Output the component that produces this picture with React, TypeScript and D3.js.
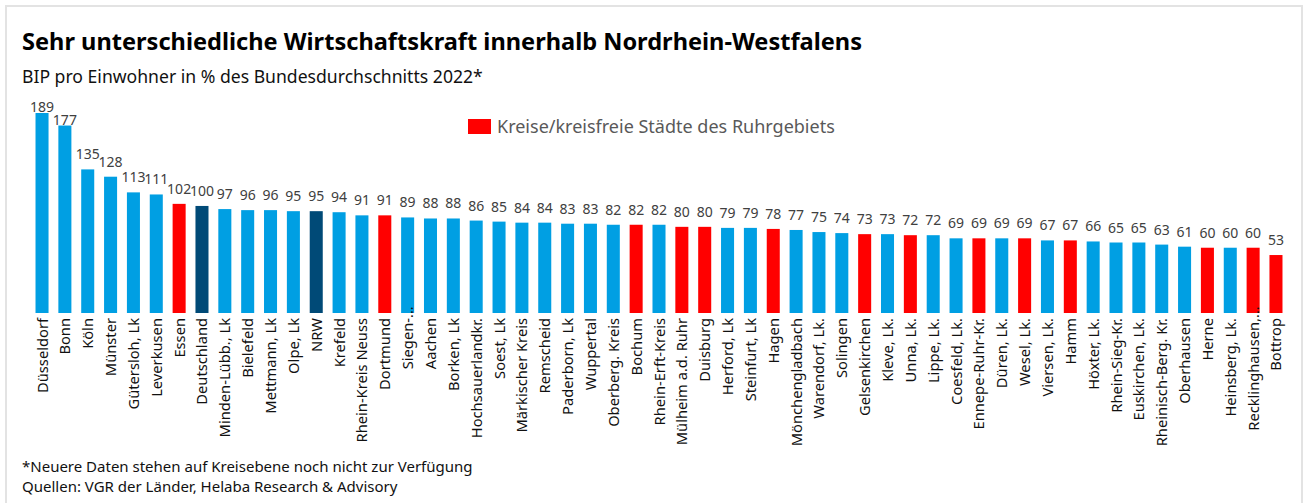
import React from "react";
import { scaleBand, scaleLinear } from "d3";

// BIP pro Einwohner 2022, Deutschland = 100
const regions = [
  "Düsseldorf", "Bonn", "Köln", "Münster", "Gütersloh, Lk", "Leverkusen", "Essen", "Deutschland",
  "Minden-Lübb., Lk", "Bielefeld", "Mettmann, Lk", "Olpe, Lk", "NRW", "Krefeld", "Rhein-Kreis Neuss",
  "Dortmund", "Siegen-...", "Aachen", "Borken, Lk", "Hochsauerlandkr.", "Soest, Lk", "Märkischer Kreis",
  "Remscheid", "Paderborn, Lk", "Wuppertal", "Oberberg. Kreis", "Bochum", "Rhein-Erft-Kreis",
  "Mülheim a.d. Ruhr", "Duisburg", "Herford, Lk", "Steinfurt, Lk", "Hagen", "Mönchengladbach",
  "Warendorf, Lk.", "Solingen", "Gelsenkirchen", "Kleve, Lk.", "Unna, Lk.", "Lippe, Lk.", "Coesfeld, Lk.",
  "Ennepe-Ruhr-Kr.", "Düren, Lk.", "Wesel, Lk.", "Viersen, Lk.", "Hamm", "Höxter, Lk.", "Rhein-Sieg-Kr.",
  "Euskirchen, Lk.", "Rheinisch-Berg. Kr.", "Oberhausen", "Herne", "Heinsberg, Lk.", "Recklinghausen,...",
  "Bottrop",
];

const values = [
  189, 177, 135, 128, 113, 111, 102, 100, 97, 96, 96, 95, 95, 94, 91, 91, 89, 88, 88, 86, 85, 84, 84,
  83, 83, 82, 82, 82, 80, 80, 79, 79, 78, 77, 75, 74, 73, 73, 72, 72, 69, 69, 69, 69, 67, 67, 66, 65,
  65, 63, 61, 60, 60, 60, 53,
];

// Kreise/kreisfreie Städte des Ruhrgebiets
const ruhr = [
  "Essen", "Dortmund", "Bochum", "Mülheim a.d. Ruhr", "Duisburg", "Hagen", "Gelsenkirchen", "Unna, Lk.",
  "Ennepe-Ruhr-Kr.", "Wesel, Lk.", "Hamm", "Herne", "Recklinghausen,...", "Bottrop",
];
const benchmarks = ["Deutschland", "NRW"];

const title = "Sehr unterschiedliche Wirtschaftskraft innerhalb Nordrhein-Westfalens";
const subtitle = "BIP pro Einwohner in % des Bundesdurchschnitts 2022*";
const legendLabel = "Kreise/kreisfreie Städte des Ruhrgebiets";
const notes = [
  "*Neuere Daten stehen auf Kreisebene noch nicht zur Verfügung",
  "Quellen: VGR der Länder, Helaba Research & Advisory",
];

const W = 1305;
const H = 503;
const FONT = "'Noto Sans', 'Open Sans', sans-serif";
const BLUE = "#009fe3";
const NAVY = "#004a77";
const RED = "#ff0000";

export default function App() {
  const x = scaleBand<string>()
    .domain(regions)
    .range([30.6, 1287.4])
    .paddingInner(0.43)
    .paddingOuter(0.215);

  // Excel-like axis that starts a little below zero
  const y = scaleLinear().domain([-2.5, 189]).range([313, 113]);
  const base = y(-2.5);

  const barColor = (r: string) =>
    ruhr.includes(r) ? RED : benchmarks.includes(r) ? NAVY : BLUE;

  return (
    <svg
      width={W}
      height={H}
      style={{ position: "absolute", left: 0, top: 0, background: "#fff" }}
      fontFamily={FONT}
    >
      <rect x={6} y={6} width={1296} height={H + 10} fill="#fff" stroke="#e3e3e3" strokeWidth={2} />

      <text x={22} y={50} fontSize={24} fontWeight="bold" fill="#000" textLength={840} lengthAdjust="spacingAndGlyphs">
        {title}
      </text>
      <text x={22} y={83} fontSize={17.6} fill="#111">
        {subtitle}
      </text>

      <rect x={468} y={119} width={23} height={15} fill={RED} />
      <text x={497} y={133} fontSize={18} fill="#595959">
        {legendLabel}
      </text>

      {regions.map((r, i) => {
        const v = values[i];
        const bx = x(r) ?? 0;
        const cx = bx + x.bandwidth() / 2;
        const top = y(v);
        const truncated = r.endsWith("...");
        const main = truncated ? r.slice(0, -3) : r;
        return (
          <g key={r}>
            <rect x={bx} y={top} width={x.bandwidth()} height={base - top} fill={barColor(r)} />
            <text
              x={cx}
              y={top - (v > 150 ? 1 : 10)}
              textAnchor="middle"
              fontSize={14}
              fill="#404040"
            >
              {v}
            </text>
            <text
              transform={`translate(${cx + 5.5},318) rotate(-90)`}
              textAnchor="end"
              fontSize={14.7}
              fill="#111"
            >
              {main}
            </text>
            {truncated && (
              <text
                transform={`translate(${cx + 5.5},318) rotate(-90)`}
                textAnchor="start"
                fontSize={14.7}
                fill="#111"
              >
                ...
              </text>
            )}
          </g>
        );
      })}

      {notes.map((n, i) => (
        <text key={n} x={22} y={471.5 + i * 20} fontSize={15} fill="#111">
          {n}
        </text>
      ))}
    </svg>
  );
}
